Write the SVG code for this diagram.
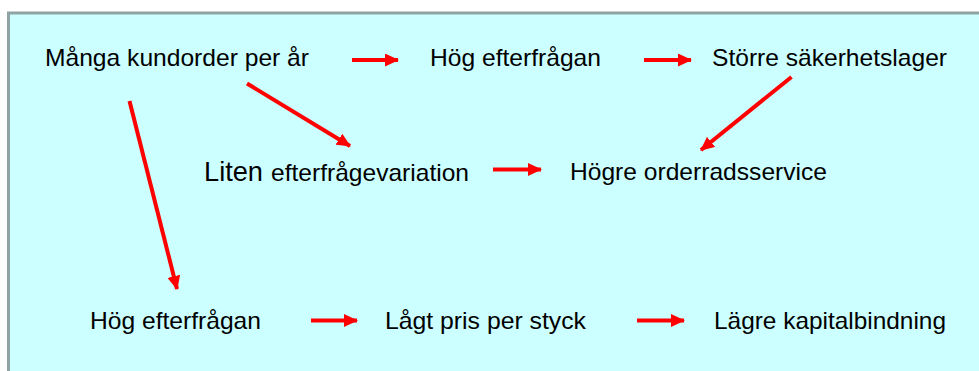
<svg xmlns="http://www.w3.org/2000/svg" width="979" height="371" viewBox="0 0 979 371">
<style>
.t{font-family:"Liberation Sans",Arial,sans-serif;font-size:24px;fill:#000}
.big{font-size:28px}
.c line{stroke:#ff0000;stroke-width:4;fill:none}
</style>
<defs>
<marker id="ah" markerUnits="userSpaceOnUse" markerWidth="14" markerHeight="13" refX="13" refY="6.5" orient="auto">
<path d="M0,0 L14,6.5 L0,13 Z" fill="#ff0000"/>
</marker>
</defs>
<rect x="8.5" y="13" width="980" height="370" fill="#ccffff" stroke="#8fa3a3" stroke-width="3"/>
<g id="n1"><text class="t" x="45" y="66" textLength="264" lengthAdjust="spacingAndGlyphs">Många kundorder per år</text></g>
<g id="n2"><text class="t" x="430" y="66" textLength="171" lengthAdjust="spacingAndGlyphs">Hög efterfrågan</text></g>
<g id="n3"><text class="t" x="712" y="66" textLength="235" lengthAdjust="spacingAndGlyphs">Större säkerhetslager</text></g>
<g id="n4"><text class="t" y="180.5"><tspan class="big" x="204" textLength="59" lengthAdjust="spacingAndGlyphs">Liten</tspan><tspan x="271" textLength="198" lengthAdjust="spacingAndGlyphs">efterfrågevariation</tspan></text></g>
<g id="n5"><text class="t" x="570" y="180" textLength="257" lengthAdjust="spacingAndGlyphs">Högre orderradsservice</text></g>
<g id="n6"><text class="t" x="90" y="329" textLength="171" lengthAdjust="spacingAndGlyphs">Hög efterfrågan</text></g>
<g id="n7"><text class="t" x="385" y="329" textLength="201" lengthAdjust="spacingAndGlyphs">Lågt pris per styck</text></g>
<g id="n8"><text class="t" x="714" y="329" textLength="232" lengthAdjust="spacingAndGlyphs">Lägre kapitalbindning</text></g>
<g class="c" id="connectors">
<line x1="352" y1="60" x2="398" y2="60" marker-end="url(#ah)"/>
<line x1="644" y1="60" x2="691" y2="60" marker-end="url(#ah)"/>
<line x1="493" y1="169.5" x2="541" y2="169.5" marker-end="url(#ah)"/>
<line x1="311" y1="320.5" x2="357" y2="320.5" marker-end="url(#ah)"/>
<line x1="637" y1="320.5" x2="684" y2="320.5" marker-end="url(#ah)"/>
<line x1="129.5" y1="101" x2="177" y2="289" marker-end="url(#ah)"/>
<line x1="247" y1="83.5" x2="350" y2="146" marker-end="url(#ah)"/>
<line x1="791.5" y1="77" x2="701" y2="150" marker-end="url(#ah)"/>
</g>
</svg>
